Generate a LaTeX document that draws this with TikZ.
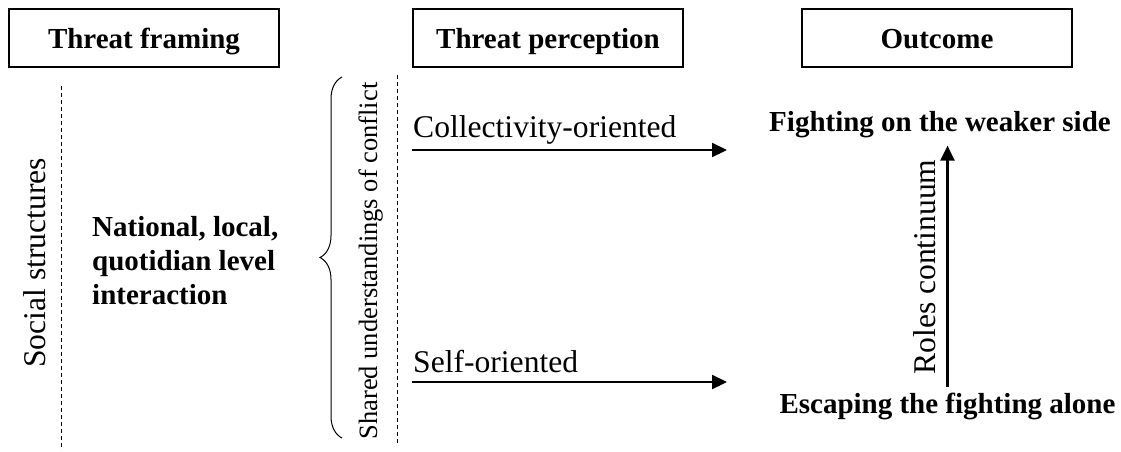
\documentclass[tikz,border=0pt]{standalone}
\usepackage{fontspec}
\setmainfont{Liberation Serif}
\usetikzlibrary{arrows.meta,decorations.pathreplacing}

\begin{document}
\begin{tikzpicture}[x=1pt,y=-1pt,
  header/.style={draw, line width=1.1pt, minimum width=270pt, minimum height=58pt,
    inner sep=0pt, text height=20pt, text depth=0pt, font=\fontsize{29}{34}\selectfont\bfseries},
  plaintext/.style={font=\fontsize{31.6}{36}\selectfont, inner sep=0pt},
  boldtext/.style={font=\fontsize{29}{34}\selectfont\bfseries, inner sep=0pt},
  guide/.style={dash pattern=on 4pt off 3pt, line width=0.9pt},
  flow/.style={line width=2.2pt, -{Triangle[length=15pt,width=14pt]}}]

  \useasboundingbox (0,0) rectangle (1121,451);

  % Column headers
  \node[header] (framing)    at (144,38) {Threat framing};
  \node[header] (perception) at (548,38) {Threat perception};
  \node[header] (outcome)    at (937,38) {Outcome};

  % Threat framing column
  \draw[guide] (61,86) -- (61,450);
  \node[plaintext, rotate=90, anchor=base] (social) at (45,263) {Social structures};
  \node[boldtext, align=left, anchor=north west] (interaction) at (92,216)
    {National, local,\\quotidian level\\interaction};

  % Brace and shared understandings
  \draw[decorate, decoration={brace, amplitude=22pt}, line width=1pt] (342,438) -- (342,77);
  \node[font=\fontsize{26.5}{30}\selectfont, inner sep=0pt, rotate=90, anchor=base] (shared)
    at (377,261) {Shared understandings of conflict};
  \draw[guide] (397,75) -- (397,443);

  % Threat perception arrows
  \coordinate (collstart) at (412,150);
  \coordinate (collend)   at (727,150);
  \coordinate (selfstart) at (412,382);
  \coordinate (selfend)   at (727,382);
  \node[plaintext, anchor=base west] (collective) at (413,137) {Collectivity-oriented};
  \node[plaintext, anchor=base west] (selfish)    at (413,372) {Self-oriented};
  \draw[flow] (collstart) -- (collend);
  \draw[flow] (selfstart) -- (selfend);

  % Outcomes
  \node[boldtext, anchor=base] (fighting) at (940,131) {Fighting on the weaker side};
  \node[boldtext, anchor=base] (escaping) at (947.5,413) {Escaping the fighting alone};
  \draw[flow, shorten <=5pt, shorten >=8pt] (escaping.north) -- (escaping.north |- fighting.south);
  \node[plaintext, rotate=90, anchor=base] (roles) at (935,267) {Roles continuum};
\end{tikzpicture}
\end{document}
